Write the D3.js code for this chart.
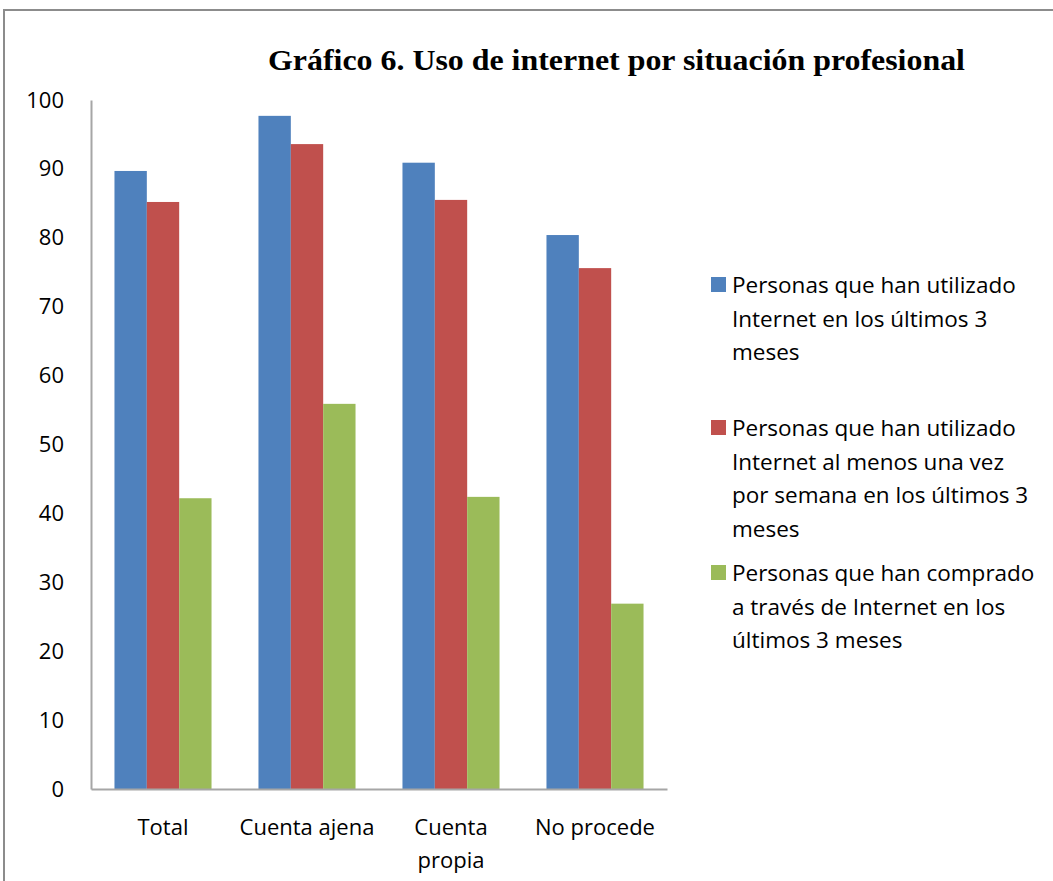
<!DOCTYPE html>
<html>
<head>
<meta charset="utf-8">
<script src="https://cdn.jsdelivr.net/npm/d3@7/dist/d3.min.js"></script>
<style>
  body { margin: 0; background: #fff; }
  svg text { font-family: "Open Sans", Lato, sans-serif; fill: #000; }
</style>
</head>
<body>
<svg id="chart" width="1053" height="881"></svg>
<script>
// values
var categories = ['Total', 'Cuenta ajena', 'Cuenta propia', 'No procede'];
var series_names = [
    'Personas que han utilizado Internet en los últimos 3 meses',
    'Personas que han utilizado Internet al menos una vez por semana en los últimos 3 meses',
    'Personas que han comprado a través de Internet en los últimos 3 meses'
];
var used_3m = [89.7, 97.7, 90.9, 80.4];
var weekly_3m = [85.2, 93.6, 85.5, 75.6];
var bought_3m = [42.2, 55.9, 42.4, 26.9];
var y_ticks = [0, 10, 20, 30, 40, 50, 60, 70, 80, 90, 100];
var cat_lines = [['Total'], ['Cuenta ajena'], ['Cuenta', 'propia'], ['No procede']];
var legend_lines = [
    ['Personas que han utilizado', 'Internet en los últimos 3', 'meses'],
    ['Personas que han utilizado', 'Internet al menos una vez', 'por semana en los últimos 3', 'meses'],
    ['Personas que han comprado', 'a través de Internet en los', 'últimos 3 meses']
];
var colors = ['#4f81bd', '#c0504d', '#9bbb59'];

var svg = d3.select('#chart');

// outer frame
svg.append('rect')
    .attr('x', 4).attr('y', 10)
    .attr('width', 1060).attr('height', 880)
    .attr('fill', 'none')
    .attr('stroke', '#8c8c8c')
    .attr('stroke-width', 2);

svg.append('text')
    .attr('x', 268).attr('y', 70)
    .attr('textLength', 697)
    .attr('lengthAdjust', 'spacingAndGlyphs')
    .style('font-family', '"Liberation Serif", "Times New Roman", serif')
    .style('font-weight', 'bold')
    .style('font-size', '30px')
    .text('Gráfico 6. Uso de internet por situación profesional');

var plotLeft = 91, plotRight = 667, plotTop = 100, plotBottom = 789;

var x0 = d3.scaleBand().domain(categories).range([plotLeft, plotRight]).paddingInner(0.326).paddingOuter(0.163);
var x1 = d3.scaleBand().domain([0, 1, 2]).range([0, x0.bandwidth()]);
var y = d3.scaleLinear().domain([0, 100]).range([plotBottom, plotTop]);

var rows = categories.map(function(c, i) {
    return { cat: c, vals: [used_3m[i], weekly_3m[i], bought_3m[i]] };
});

var groups = svg.append('g').selectAll('g').data(rows).enter().append('g')
    .attr('transform', function(d) { return 'translate(' + x0(d.cat) + ',0)'; });
groups.selectAll('rect')
    .data(function(d) { return d.vals.map(function(v, k) { return { k: k, v: v }; }); })
    .enter().append('rect')
    .attr('x', function(d) { return x1(d.k); })
    .attr('width', x1.bandwidth())
    .attr('y', function(d) { return y(d.v); })
    .attr('height', function(d) { return y(0) - y(d.v); })
    .attr('fill', function(d) { return colors[d.k]; });

// y axis
var yAxis = svg.append('g').attr('transform', 'translate(' + plotLeft + ',0)')
    .call(d3.axisLeft(y).tickValues(y_ticks).tickSize(0).tickPadding(27));
yAxis.select('.domain').attr('stroke', '#a6a6a6').attr('stroke-width', 2);
yAxis.selectAll('text')
    .style('font-size', '22px')
    .style('font-family', '"Open Sans", sans-serif');

// x axis
var xAxis = svg.append('g').attr('transform', 'translate(0,' + plotBottom + ')')
    .call(d3.axisBottom(x0).tickSize(0).tickFormat(''));
xAxis.select('.domain').attr('stroke', '#a6a6a6').attr('stroke-width', 2);

var xl = svg.append('g').selectAll('text').data(categories).enter().append('text')
    .attr('text-anchor', 'middle')
    .style('font-size', '22px')
    .attr('x', function(d) { return x0(d) + x0.bandwidth() / 2; })
    .attr('y', 835);
xl.each(function(d, i) {
    var t = d3.select(this);
    cat_lines[i].forEach(function(line, j) {
        t.append('tspan').attr('x', t.attr('x')).attr('dy', j == 0 ? 0 : 33).text(line);
    });
});

// legend
var legend_y = [285, 428, 573];
var leg = svg.append('g').selectAll('g').data(series_names).enter().append('g');
leg.append('rect')
    .attr('x', 711)
    .attr('y', function(d, i) { return legend_y[i] - 8; })
    .attr('width', 15).attr('height', 15)
    .attr('fill', function(d, i) { return colors[i]; });
leg.append('text')
    .attr('x', 732)
    .attr('y', function(d, i) { return legend_y[i] + 8; })
    .style('font-size', '22.5px')
    .each(function(d, i) {
        var t = d3.select(this);
        legend_lines[i].forEach(function(line, j) {
            t.append('tspan').attr('x', 732).attr('dy', j == 0 ? 0 : 33.5).text(line);
        });
    });
</script>
</body>
</html>
